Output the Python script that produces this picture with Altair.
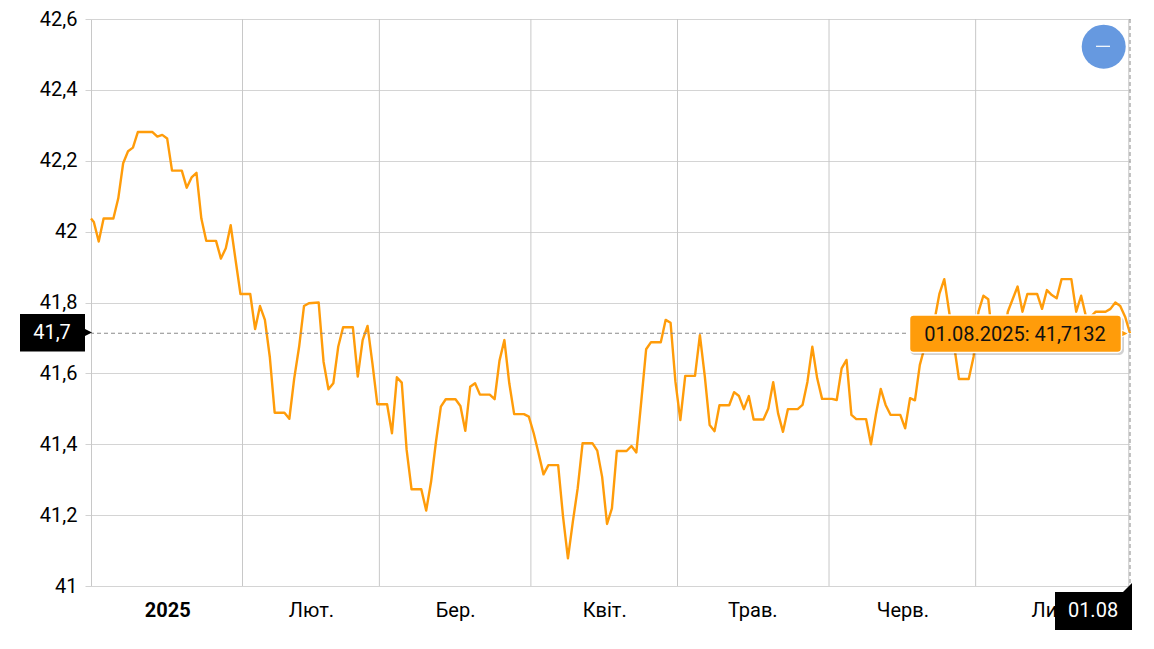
import altair as alt
import pandas as pd

# day offset from 2025-01-01 of each vertex of the line, and its value
DAYS = [0,1,2,3,5,6,7,8,9,10,13,14,15,16,17,19,20,21,22,23,24,26,27,28,29,30,31,33,34,35,36,37,38,40,41,42,43,44,45,47,48,49,50,51,52,54,55,56,57,58,59,61,
        62,63,64,65,66,68,69,70,71,72,73,75,76,77,78,79,80,82,83,84,85,86,87,89,90,91,92,93,94,96,97,98,99,100,101,103,104,105,106,107,108,110,111,112,113,114,115,
        117,118,119,120,121,122,124,125,126,127,128,129,131,132,133,134,135,136,138,139,140,141,142,143,145,146,147,148,149,150,152,153,154,155,156,157,159,160,161,162,163,164,166,167,168,169,170,171,
        172,173,174,175,176,177,178,180,181,182,183,184,185,187,188,190,191,192,194,195,196,197,198,199,201,202,203,204,205,206,208,209,210,211,212,213]
VALUES = [42.037,42.027,41.972,42.037,42.037,42.094,42.193,42.227,42.237,42.281,42.281,42.268,42.273,42.263,42.172,42.172,42.124,42.153,42.166,42.037,41.974,41.974,41.924,41.953,42.018,41.92,41.824,41.824,41.725,41.79,41.751,41.647,41.489,41.489,41.472,41.586,41.675,41.79,41.798,41.8,41.633,41.555,41.572,41.675,41.73,41.73,41.591,41.694,41.734,41.628,41.513,41.513,
          41.431,41.589,41.574,41.384,41.273,41.273,41.213,41.294,41.407,41.506,41.527,41.527,41.508,41.438,41.562,41.572,41.54,41.54,41.527,41.636,41.694,41.572,41.485,41.485,41.478,41.431,41.374,41.315,41.341,41.341,41.196,41.078,41.181,41.276,41.403,41.403,41.382,41.308,41.175,41.219,41.381,41.381,41.395,41.377,41.52,41.668,41.688,
          41.688,41.751,41.743,41.576,41.468,41.593,41.593,41.708,41.592,41.454,41.437,41.51,41.51,41.547,41.536,41.499,41.536,41.47,41.47,41.501,41.575,41.487,41.435,41.499,41.499,41.511,41.576,41.675,41.586,41.528,41.528,41.525,41.614,41.638,41.483,41.471,41.471,41.4,41.483,41.556,41.511,41.483,41.483,41.445,41.53,41.524,41.624,41.675,
          41.72,41.75,41.824,41.866,41.774,41.68,41.584,41.584,41.647,41.774,41.819,41.809,41.68,41.68,41.774,41.845,41.774,41.824,41.824,41.782,41.835,41.821,41.812,41.866,41.866,41.774,41.819,41.76,41.76,41.774,41.774,41.782,41.8,41.79,41.76,41.7132]

MONTH_START_DAYS = [31,59,90,120,151,181]
MONTH_LABEL_DAYS = [15.6,45,74.5,105,135.3,166,196.7]
MONTH_LABELS = ["2025","Лют.","Бер.","Квіт.","Трав.","Черв.","Лип."]
Y_TICKS = [41,41.2,41.4,41.6,41.8,42,42.2,42.4,42.6]
LAST_VALUE = 41.7132
TIP_TEXT = "01.08.2025: 41,7132"
Y_FLAG = "41,7"
X_FLAG = "01.08"

FONT = "Roboto"
DAY_SHIFT = 0.42   # points sit slightly before the month gridlines in the reference
BASE = pd.Timestamp("2025-01-01T00:00:00", tz="UTC")
def iso(d):
    return (BASE + pd.Timedelta(days=d)).strftime("%Y-%m-%dT%H:%M:%SZ")
def ms(d):
    return int((BASE + pd.Timedelta(days=d)).timestamp() * 1000)

df = pd.DataFrame({"date": [iso(max(0, d - DAY_SHIFT)) for d in DAYS], "value": VALUES})
x_scale = alt.Scale(type="utc", domain=[ms(0), ms(DAYS[-1] - DAY_SHIFT)], nice=False)
y_scale = alt.Scale(domain=[41, 42.6], nice=False, zero=False)
label_list = "[" + ",".join("'%s'" % s for s in MONTH_LABELS) + "]"

x_axis = alt.Axis(
    values=[ms(d) for d in MONTH_LABEL_DAYS],
    labelExpr=label_list + "[utcmonth(datum.value)]",
    labelFont=FONT, labelFontSize=20, labelColor="#000000", labelPadding=14,
    labelFontWeight={"condition": {"test": "utcmonth(datum.value)==0", "value": "bold"}, "value": "normal"},
    labelOverlap=False, labelFlush=False, title=None,
    ticks=False, grid=False, domain=False)
y_axis = alt.Axis(
    values=Y_TICKS,
    labelExpr="replace(format(datum.value,'.1~f'),'.',',')",
    labelFont=FONT, labelFontSize=20, labelColor="#000000", labelPadding=8, title=None,
    tickSize=6, tickColor="#d2d2d2", domainColor="#c8c8c8",
    grid=True, gridColor="#d4d4d4", gridWidth=1)
X = alt.X("date:T", scale=x_scale, axis=x_axis)
Y = alt.Y("value:Q", scale=y_scale, axis=y_axis)

one = alt.Data(values=[{"a": 1}])

grid_v = alt.Chart(pd.DataFrame({"date": [iso(d) for d in MONTH_START_DAYS] + [iso(DAYS[-1] - DAY_SHIFT - 0.25)]})).mark_rule(
    color="#c8c8c8", strokeWidth=1
).encode(x=X)

line = alt.Chart(df).mark_line(color="#ff9c0a", strokeWidth=2.4, strokeJoin="round").encode(x=X, y=Y)

cross_h = alt.Chart(pd.DataFrame({"value": [LAST_VALUE]})).mark_rule(
    color="#8a8a8a", strokeWidth=1, strokeDash=[4, 3]
).encode(y=Y)
cross_v = alt.Chart(pd.DataFrame({"date": [iso(DAYS[-1] - DAY_SHIFT)]})).mark_rule(
    color="#8a8a8a", strokeWidth=1, strokeDash=[4, 3]
).encode(x=X)

def box(x0, x1, y0, y1, **kw):
    return alt.Chart(one).mark_rect(**kw).encode(
        x=alt.value(x0 - 91), x2=alt.value(x1 - 91), y=alt.value(y0 - 19), y2=alt.value(y1 - 19))
def label(txt, x, y, color, size=20):
    return alt.Chart(one).mark_text(text=txt, font=FONT, fontSize=size, color=color, align="center", baseline="middle").encode(
        x=alt.value(x - 91), y=alt.value(y - 19))
def pt(shape, x, y, size, color, **kw):
    return alt.Chart(one).mark_point(shape=shape, filled=True, size=size, color=color, opacity=1, **kw).encode(
        x=alt.value(x - 91), y=alt.value(y - 19))

tip_shadow = box(910, 1124, 317, 355, color="#000000", opacity=0.18, cornerRadius=5)
tip_arrow_w = pt("M-1,-1 L1,0 L-1,1 Z", 1123, 333.5, 196, "#ffffff")
tip_arrow = pt("M-1,-1 L1,0 L-1,1 Z", 1122.5, 333.5, 100, "#ff9c0a")
tip_box = box(909.5, 1121.5, 315, 352.5, color="#ff9c0a", stroke="#ffffff", strokeWidth=1.5, cornerRadius=4)
tip_text = label(TIP_TEXT, 1015, 334.5, "#111111")

y_box = box(20, 85, 314, 351.5, color="#000000")
y_arrow = pt("M-1,-1 L1,0 L-1,1 Z", 87, 332.5, 100, "#000000")
y_text = label(Y_FLAG, 52, 333, "#ffffff")

x_box = box(1055, 1132, 592, 630, color="#000000")
x_arrow = pt("M-1,1 L1,-1 L1,1 Z", 1125, 590, 196, "#000000")
x_text = label(X_FLAG, 1093, 611, "#ffffff")

circle = pt("circle", 1103.7, 46.7, 1936, "#6699e0")
minus = box(1096, 1110, 45.7, 46.9, color="#ffffff")

chart = alt.layer(
    grid_v, line, cross_h, cross_v,
    tip_shadow, tip_arrow_w, tip_arrow, tip_box, tip_text,
    y_box, y_arrow, y_text, x_box, x_arrow, x_text, circle, minus,
).properties(
    width=1039, height=567,
    autosize=alt.AutoSizeParams(type="none"),
    padding={"left": 83, "top": 11, "right": 8, "bottom": 46},
).configure_view(stroke=None)

chart.save("out.html", embed_options={"renderer": "svg", "actions": False})
